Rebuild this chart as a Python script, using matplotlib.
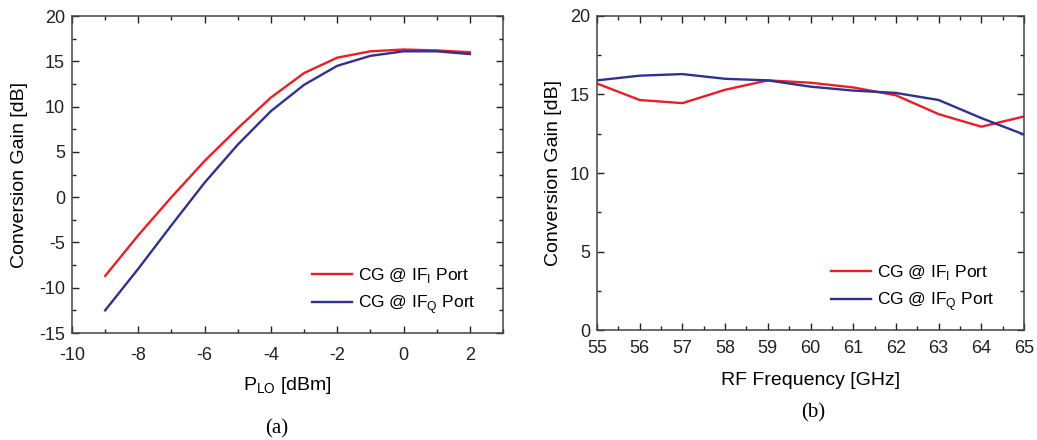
import matplotlib
matplotlib.use("Agg")
import matplotlib.pyplot as plt
from matplotlib.ticker import MultipleLocator

plt.rcParams["font.family"] = ["Liberation Sans", "DejaVu Sans"]
plt.rcParams["mathtext.fontset"] = "custom"
plt.rcParams["mathtext.rm"] = "Liberation Sans"
plt.rcParams["axes.unicode_minus"] = False

# (a) conversion gain vs LO power
p_lo = [-9, -8, -7, -6, -5, -4, -3, -2, -1, 0, 1, 2]
cg_i_plo = [-8.7, -4.2, 0.0, 4.0, 7.6, 11.0, 13.7, 15.4, 16.1, 16.3, 16.2, 16.0]
cg_q_plo = [-12.5, -7.9, -3.1, 1.6, 5.8, 9.5, 12.4, 14.5, 15.6, 16.1, 16.1, 15.8]

# (b) conversion gain vs RF frequency
rf_freq = [55, 56, 57, 58, 59, 60, 61, 62, 63, 64, 65]
cg_i_rf = [15.7, 14.65, 14.45, 15.3, 15.9, 15.75, 15.45, 14.95, 13.75, 12.95, 13.6]
cg_q_rf = [15.9, 16.2, 16.3, 16.0, 15.9, 15.5, 15.25, 15.1, 14.65, 13.5, 12.45]

RED = "#ee1d25"
BLUE = "#2f3192"
LABEL_I = r"CG @ IF$_\mathrm{I}$ Port"
LABEL_Q = r"CG @ IF$_\mathrm{Q}$ Port"

W, H = 1037, 440
fig = plt.figure(figsize=(W / 100, H / 100), dpi=100)


def px_axes(x0, y0, x1, y1):
    return fig.add_axes([x0 / W, 1 - y1 / H, (x1 - x0) / W, (y1 - y0) / H])


def style(ax, xpad):
    for s in ax.spines.values():
        s.set_color("#444444")
        s.set_linewidth(1.1)
    ax.tick_params(which="both", direction="in", top=True, right=True,
                   labelsize=13, colors="#222222", width=1.0)
    ax.tick_params(which="major", length=5)
    ax.tick_params(which="minor", length=3)
    ax.tick_params(axis="x", which="major", pad=xpad)
    ax.tick_params(axis="y", which="major", pad=5)


def legend(ax, x, y):
    ax.legend(loc="lower right", bbox_to_anchor=(x, y), frameon=False,
              fontsize=12.5, handlelength=2.3, handletextpad=0.35,
              labelspacing=0.5, borderaxespad=0.2)


ax1 = px_axes(72, 16, 503, 333)
ax1.plot(p_lo, cg_i_plo, color=RED, lw=1.7, label=LABEL_I)
ax1.plot(p_lo, cg_q_plo, color=BLUE, lw=1.7, label=LABEL_Q)
ax1.set_xlim(-10, 3)
ax1.set_ylim(-15, 20)
ax1.set_xticks(range(-10, 3, 2))
ax1.xaxis.set_minor_locator(MultipleLocator(1))
ax1.yaxis.set_major_locator(MultipleLocator(5))
ax1.yaxis.set_minor_locator(MultipleLocator(2.5))
style(ax1, xpad=10)
ax1.set_xlabel(r"P$_\mathrm{LO}$ [dBm]", fontsize=14)
ax1.set_ylabel("Conversion Gain [dB]", fontsize=14)
ax1.xaxis.set_label_coords(0.5, -(375 - 333) / 317, transform=ax1.transAxes)
ax1.yaxis.set_label_coords(-(72 - 28) / 431, 0.5, transform=ax1.transAxes)
legend(ax1, 0.96, 0.02)
fig.text(277 / W, 1 - 429 / H, "(a)", family="Liberation Serif", fontsize=15,
         ha="center", va="center")

ax2 = px_axes(597, 16, 1024, 330)
ax2.plot(rf_freq, cg_i_rf, color=RED, lw=1.7, label=LABEL_I)
ax2.plot(rf_freq, cg_q_rf, color=BLUE, lw=1.7, label=LABEL_Q)
ax2.set_xlim(55, 65)
ax2.set_ylim(0, 20)
ax2.set_xticks(range(55, 66))
ax2.xaxis.set_minor_locator(MultipleLocator(0.5))
ax2.yaxis.set_major_locator(MultipleLocator(5))
ax2.yaxis.set_minor_locator(MultipleLocator(2.5))
style(ax2, xpad=7)
ax2.set_xlabel("RF Frequency [GHz]", fontsize=14)
ax2.set_ylabel("Conversion Gain [dB]", fontsize=14)
ax2.xaxis.set_label_coords(0.5, -(372 - 330) / 314, transform=ax2.transAxes)
ax2.yaxis.set_label_coords(-(597 - 562) / 427, 0.5, transform=ax2.transAxes)
legend(ax2, 0.955, 0.02)
fig.text(813 / W, 1 - 413 / H, "(b)", family="Liberation Serif", fontsize=15,
         ha="center", va="center")

fig.savefig("out.png", dpi=100)
